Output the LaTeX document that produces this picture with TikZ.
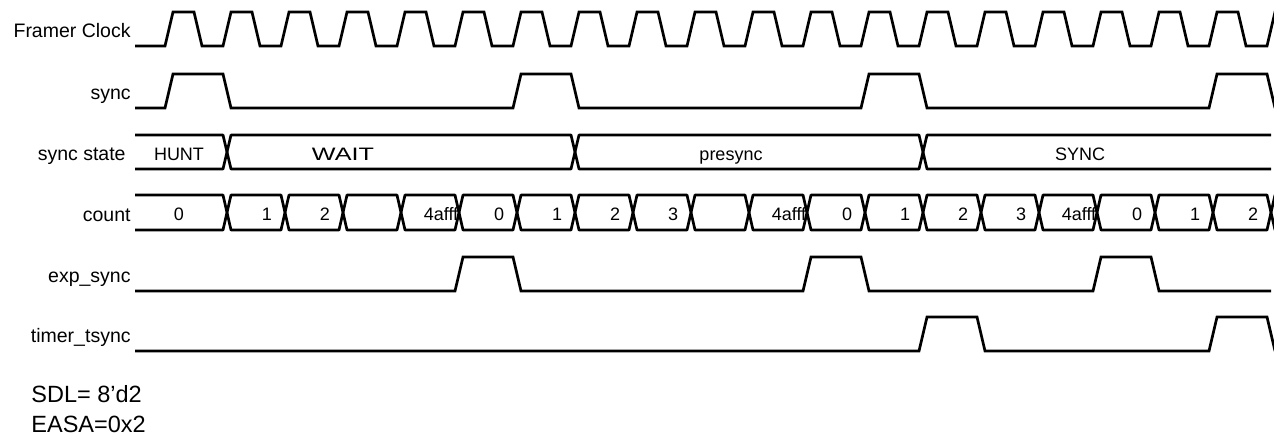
\documentclass[tikz,border=0pt]{standalone}
\usepackage{fontspec}
\setmainfont{Liberation Sans}[Ligatures=NoCommon]
\usepackage{tikz, graphicx}

\begin{document}
\begin{tikzpicture}[x=0.5pt, y=-0.5pt,
			sig/.style={line width=1.35pt, line join=miter},   %Signalleitung
			bus/.style={line width=1.35pt, line join=round},
			lbl/.style={anchor=base east, inner sep=0pt, font=\fontsize{9.75}{11}\selectfont},
			val/.style={anchor=base, inner sep=0pt, font=\fontsize{9}{10}\selectfont},
			note/.style={anchor=base west, inner sep=0pt, font=\fontsize{11.75}{14}\selectfont}]
			\useasboundingbox (0,0) rectangle (1274,436);
			%Signalnamen
			\node[lbl] (clk) at (131,37) {Framer Clock};
			\node[lbl] (sync) at (131,99) {sync};
			\node[lbl] (state) at (126,160) {sync state};
			\node[lbl] (count) at (131,221) {count};
			\node[lbl] (exp) at (131,282) {exp\_sync};
			\node[lbl] (timer) at (131,342) {timer\_tsync};
			\begin{scope}
			\clip (0,0) rectangle (1274,436);
			% Takt zeichnen
			\draw[sig] (135,46) foreach \k in {0,...,19} {-- ({165+58*\k},46) -- ++(8,-34) -- ++(21,0) -- ++(8,34)};
			% Pulse zeichnen
			\draw[sig] (135,108) foreach \k in {0,6,12,18} {-- ({165+58*\k},108) -- ++(8,-34) -- ({165+58*(\k+1)},74) -- ++(8,34)};
			\draw[sig] (135,291) foreach \k in {5,11,16} {-- ({165+58*\k},291) -- ++(8,-34) -- ({165+58*(\k+1)},257) -- ++(8,34)} -- (1271,291);
			\draw[sig] (135,351) foreach \k in {13,18} {-- ({165+58*\k},351) -- ++(8,-34) -- ({165+58*(\k+1)},317) -- ++(8,34)};
			% Zustand
			\draw[bus] (135,135) -- (223,135) -- (227,152) -- (223,169) -- (135,169);
			\foreach \a/\b in {227/575, 575/923}
				\draw[bus] (\a,152) -- (\a+4,135) -- (\b-4,135) -- (\b,152) -- (\b-4,169) -- (\a+4,169) -- cycle;
			\draw[bus] (1271,135) -- (927,135) -- (923,152) -- (927,169) -- (1271,169);
			\node[val] (hunt) at (179,160) {HUNT};
			\node[val] (wait) at (343,160) {\scalebox{1.4}[1]{WAIT}};
			\node[val] (pre) at (731,160) {presync};
			\node[val] (syn) at (1080,160) {SYNC};
			% Zaehler
			\draw[bus] (135,195) -- (223,195) -- (227,212.5) -- (223,230) -- (135,230);
			\node[val] (cnt0) at (179,220) {0};
			\foreach \k/\v in {1/1,2/2,3/,4/4afff,5/0,6/1,7/2,8/3,9/,10/4afff,11/0,12/1,13/2,14/3,15/4afff,16/0,17/1,18/2} {
				\draw[bus] ({169+58*\k},212.5) -- ++(4,-17.5) -- ({169+58*(\k+1)-4},195) -- ++(4,17.5) -- ++(-4,17.5) -- ({173+58*\k},230) -- cycle;
				\node[val] (cnt\k) at ({209+58*\k},220) {\v};
			}
			\draw[bus] (1275,195) -- (1271,212.5) -- (1275,230);
			\end{scope}
			%Beschriftung
			\node[note] (sdl) at (31,402) {SDL= 8’d2};
			\node[note] (easa) at (31,432) {EASA=0x2};
		\end{tikzpicture}
\end{document}
